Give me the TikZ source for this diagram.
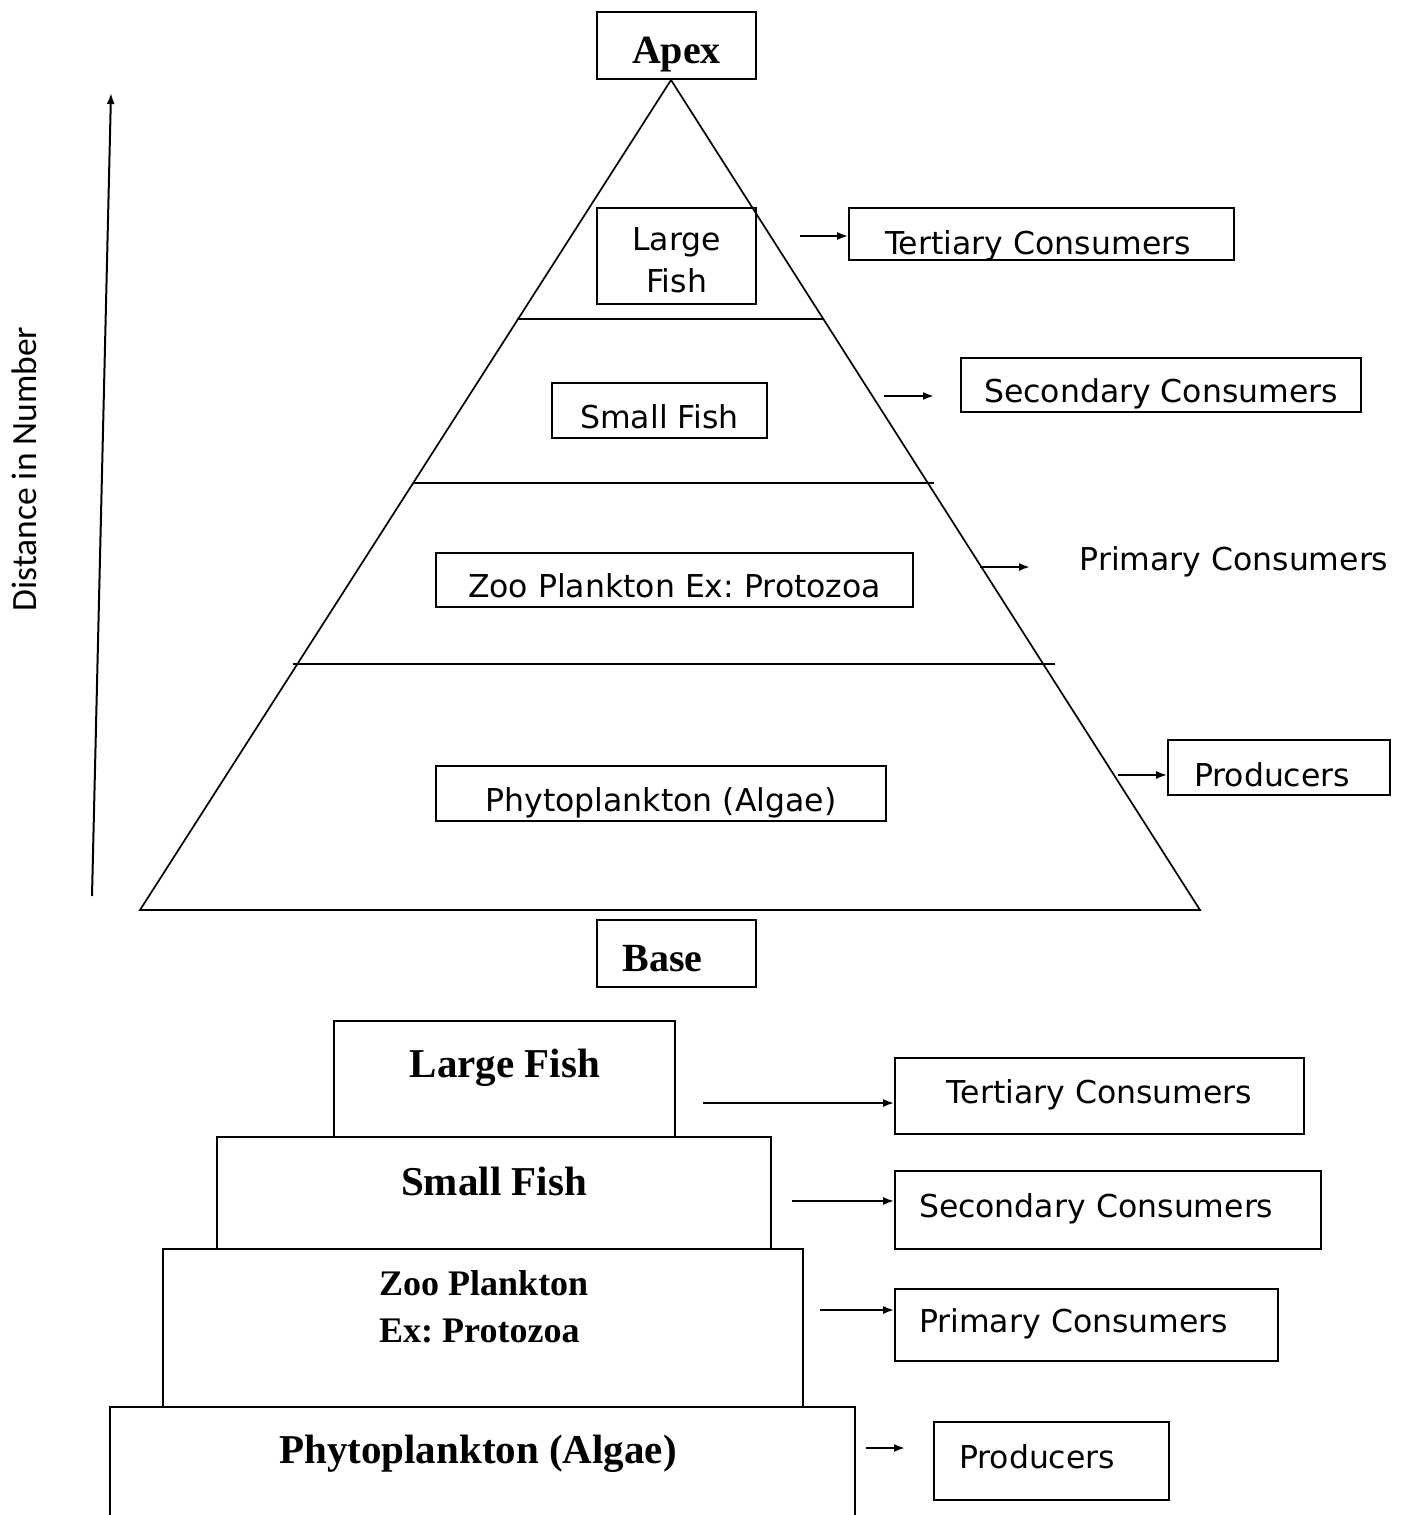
\documentclass[tikz,border=0pt]{standalone}
\usepackage{fontspec}
\setmainfont{DejaVu Sans}
\newfontfamily\headfont{Liberation Serif}
\newfontfamily\axisfont{Carlito}
\usetikzlibrary{arrows.meta,positioning}
\frenchspacing

\begin{document}
\begin{tikzpicture}[x=1pt, y=-1pt,
  tag/.style = {draw, line width=1.6pt, inner ysep=0pt, font=\fontsize{31.5}{42}\selectfont, text height=35pt, text depth=0pt},
  tagl/.style = {tag, align=left, inner xsep=24pt},
  low/.style = {text height=15pt, text depth=0pt},
  head/.style = {draw, line width=1.6pt, inner sep=0pt, font=\headfont\bfseries\fontsize{40}{46}\selectfont, text height=36pt, text depth=0pt},
  tier/.style = {draw, line width=1.8pt, inner sep=0pt},
  tiertext/.style = {inner sep=0pt, font=\headfont\bfseries\fontsize{41}{47}\selectfont},
  arr/.style = {line width=2pt, -{Latex[length=11pt,width=8pt]}}]
\useasboundingbox (0,0) rectangle (1410,1515);

% pyramid of numbers
\coordinate (top) at (671,80);
\coordinate (bl) at (140,910);
\coordinate (br) at (1200,910);
\draw[line width=1.7pt] (top) -- (bl) -- (br) -- cycle;
\draw[line width=1.7pt] (517,319) -- (823,319);
\draw[line width=1.7pt] (413,483) -- (934,483);
\draw[line width=1.7pt] (293,664) -- (1055,664);

\node[head, minimum width=159, minimum height=67] (apex) at (676.5,45.5) {Apex};
\node[head, minimum width=159, minimum height=67] (base) at (676.5,953.5) {Base\hspace*{28pt}};

\node[tag, align=center, text height=72pt, text depth=0pt, minimum width=159, minimum height=96] (large) at (676.5,256) {Large\\Fish};
\node[tag, minimum width=215, minimum height=55] (small) at (659.5,410.5) {Small Fish};
\node[tag, minimum width=477, minimum height=54] (zoo) at (674.5,580) {Zoo Plankton Ex: Protozoa};
\node[tag, minimum width=450, minimum height=55] (phyto) at (661,793.5) {Phytoplankton (Algae)};

\node[tagl, inner xsep=36pt, text width=313, text height=40pt, minimum height=52] (ter1) at (1041.5,234) {Tertiary Consumers};
\node[tag, minimum width=400, minimum height=54] (sec1) at (1161,385) {Secondary Consumers};
\node[tag, draw=none] (pri1) at (1234,553) {Primary Consumers};
\node[tagl, inner xsep=26pt, text width=170, text height=37pt, minimum height=55] (pro1) at (1279,767.5) {Producers};

\coordinate (t1) at (800,236);
\coordinate (s1) at (884,396);
\coordinate (s1e) at (934,396);
\coordinate (p1) at (980,567);
\coordinate (p1e) at (1030,567);
\coordinate (r1) at (1118,775);
\draw[arr] (t1) -- (t1 -| ter1.west);
\draw[arr] (s1) -- (s1e);
\draw[arr] (p1) -- (p1e);
\draw[arr] (r1) -- (r1 -| pro1.west);

% axis
\coordinate (lo) at (92,896);
\coordinate (hi) at (111,93);
\draw[arr] (lo) -- (hi);
\node[rotate=90, font=\axisfont\fontsize{35.5}{40}\selectfont] (dist) at (24,469) {Distance in Number};

% stepped pyramid
\node[tier, minimum width=341, minimum height=116] (lf) at (504.5,1079) {};
\node[tier, minimum width=554, minimum height=112] (sf) at (494,1193) {};
\node[tier, minimum width=640, minimum height=158] (zp) at (483,1328) {};
\draw[line width=1.8pt] (110,1515) -- (110,1407) -- (855,1407) -- (855,1515);
\node[tiertext] at (505,1068) {Large Fish};
\node[tiertext] at (494,1181) {Small Fish};
\node[tiertext, anchor=west, align=left, font=\headfont\bfseries\fontsize{36}{47}\selectfont] at (379,1307) {Zoo Plankton\\Ex: Protozoa};
\node[tiertext] (al) at (478,1454) {Phytoplankton (Algae)};

\node[tag, low, minimum width=409, minimum height=76] (ter2) at (1099.5,1096) {Tertiary Consumers};
\node[tagl, low, text width=378, minimum height=78] (sec2) at (1108,1210) {Secondary Consumers};
\node[tagl, low, text width=335, minimum height=72] (pri2) at (1086.5,1325) {Primary Consumers};
\node[tagl, low, inner xsep=25pt, text width=185, minimum height=78] (pro2) at (1051.5,1461) {Producers};

\coordinate (t2) at (703,1103);
\coordinate (s2) at (792,1201);
\coordinate (p2) at (820,1310);
\coordinate (r2) at (866,1448);
\coordinate (r2e) at (905,1448);
\draw[arr] (t2) -- (t2 -| ter2.west);
\draw[arr] (s2) -- (s2 -| sec2.west);
\draw[arr] (p2) -- (p2 -| pri2.west);
\draw[arr] (r2) -- (r2e);
\end{tikzpicture}
\end{document}
